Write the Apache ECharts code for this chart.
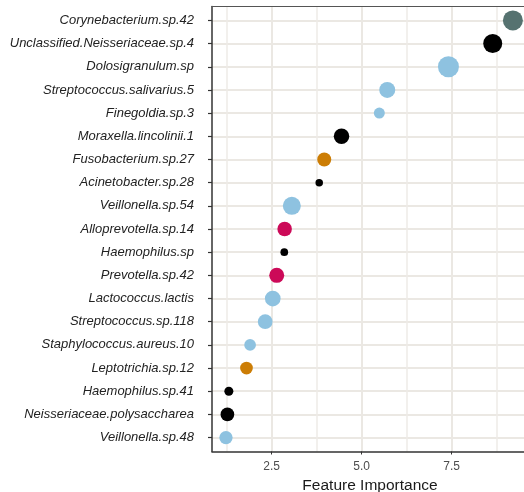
<!DOCTYPE html>
<html><head><meta charset="utf-8">
<script src="https://cdn.jsdelivr.net/npm/echarts@6/dist/echarts.min.js"></script>
<style>html,body{margin:0;padding:0;background:#fff}#c{width:524px;height:492px}</style>
</head><body><div id="c"></div>
<script>
const categories = ["Corynebacterium.sp.42","Unclassified.Neisseriaceae.sp.4","Dolosigranulum.sp","Streptococcus.salivarius.5","Finegoldia.sp.3","Moraxella.lincolinii.1","Fusobacterium.sp.27","Acinetobacter.sp.28","Veillonella.sp.54","Alloprevotella.sp.14","Haemophilus.sp","Prevotella.sp.42","Lactococcus.lactis","Streptococcus.sp.118","Staphylococcus.aureus.10","Leptotrichia.sp.12","Haemophilus.sp.41","Neisseriaceae.polysaccharea","Veillonella.sp.48"];
const importance = [9.20,8.64,7.41,5.71,5.49,4.44,3.96,3.82,3.06,2.86,2.85,2.64,2.53,2.32,1.90,1.80,1.31,1.27,1.23];
const pointSize = [20,19,21,16,11,15.5,14,7.5,18,14.5,7.7,15,15.7,14.7,11.7,12.7,9,13.7,13.3];
const group = ["slate","black","blue","blue","blue","black","orange","black","blue","crimson","black","crimson","blue","blue","blue","orange","black","black","blue"];
const groupColors = {slate:"#567270", black:"#000000", blue:"#8ec2e0", orange:"#cc7d05", crimson:"#cc0a58"};
const xTickLabels = [2.5, 5.0, 7.5];
const xMinorLines = [1.25, 3.75, 6.25, 8.75];

const chart = echarts.init(document.getElementById('c'));
const data = categories.map((c,i)=>({value:[importance[i], i, pointSize[i]], itemStyle:{color:groupColors[group[i]]}}));
const idx = categories.map((c,i)=>i);
const xMin = 0.842, xMax = 9.62;
chart.setOption({
  animation:false,
  grid:{left:212, top:6.5, width:316, height:445, show:false, outerBoundsMode:'none', containLabel:false},
  xAxis:[{
    type:'value', min:xMin, max:xMax,
    name:'Feature Importance', nameLocation:'middle', nameGap:21,
    nameTextStyle:{fontFamily:'Liberation Sans', fontSize:15.5, color:'#1a1a1a'},
    axisLine:{show:true, onZero:false, lineStyle:{color:'#333', width:1.5}},
    axisTick:{show:true, length:3, customValues:xTickLabels, lineStyle:{color:'#333'}},
    axisLabel:{customValues:xTickLabels, formatter:v=>v.toFixed(1), fontFamily:'Liberation Sans', fontSize:12, color:'#4d4d4d', margin:9},
    splitLine:{show:true, lineStyle:{color:'#ebe8e3', width:2}}
  },{
    type:'value', min:xMin, max:xMax, position:'top',
    axisLine:{show:true, onZero:false, lineStyle:{color:'#555', width:1}},
    axisLabel:{show:false},
    axisTick:{show:false, customValues:xMinorLines},
    splitLine:{show:true, lineStyle:{color:'#eeebe7', width:1.5}}
  }],
  yAxis:{
    type:'value', inverse:true, min:-0.6, max:18.6,
    axisLine:{show:true, onZero:false, lineStyle:{color:'#333', width:1.5}},
    axisTick:{show:true, length:4, customValues:idx, lineStyle:{color:'#333', width:1.2}},
    axisLabel:{customValues:idx, formatter:v=>categories[Math.round(v)], fontFamily:'Liberation Sans', fontStyle:'italic', fontSize:13, color:'#222', margin:18},
    splitLine:{show:true, lineStyle:{color:'#ebe8e3', width:2}}
  },
  series:[{
    type:'scatter', xAxisIndex:0, data:data,
    symbolSize:v=>v[2],
    itemStyle:{opacity:1}
  }]
});
</script></body></html>
